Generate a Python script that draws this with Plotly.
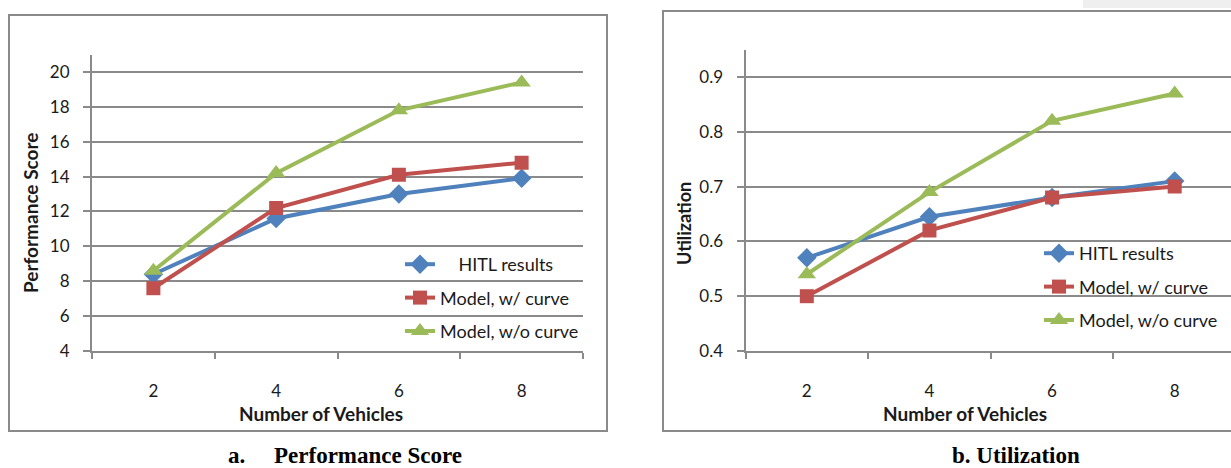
import plotly.graph_objects as go

W, H = 1231, 468

vehicles = [2, 4, 6, 8]
series_names = ["\u00a0\u00a0\u00a0\u00a0HITL results", "Model, w/ curve", "Model, w/o curve"]
series_names_b = ["HITL results", "Model, w/ curve", "Model, w/o curve"]

perf_hitl = [8.4, 11.6, 13.0, 13.9]
perf_with_curve = [7.6, 12.2, 14.1, 14.8]
perf_without_curve = [8.6, 14.2, 17.8, 19.4]

util_hitl = [0.57, 0.645, 0.68, 0.71]
util_with_curve = [0.50, 0.62, 0.68, 0.70]
util_without_curve = [0.54, 0.69, 0.82, 0.87]

colors = ["#4F81BD", "#C0504D", "#9BBB59"]
symbols = ["diamond", "square", "triangle-up"]
msizes = [15, 14, 16]

GRID = "#8a8a8a"
FONT = "Lato"
TXT = "#1a1a1a"


def px(x):
    return x / W


def py(y):
    return 1 - y / H


fig = go.Figure()

for i, vals in enumerate([perf_hitl, perf_with_curve, perf_without_curve]):
    fig.add_trace(go.Scatter(
        x=vehicles, y=vals, name=series_names[i], mode="lines+markers",
        line=dict(color=colors[i], width=4),
        marker=dict(symbol=symbols[i], size=msizes[i], color=colors[i]),
        xaxis="x", yaxis="y", legend="legend", legendgroup="a%d" % i,
    ))

for i, vals in enumerate([util_hitl, util_with_curve, util_without_curve]):
    fig.add_trace(go.Scatter(
        x=vehicles, y=vals, name=series_names_b[i], mode="lines+markers",
        line=dict(color=colors[i], width=4),
        marker=dict(symbol=symbols[i], size=msizes[i], color=colors[i]),
        xaxis="x2", yaxis="y2", legend="legend2", legendgroup="b%d" % i,
    ))

xcommon = dict(
    tickvals=vehicles, ticktext=[str(v) for v in vehicles], ticks="",
    showgrid=False, zeroline=False, showline=True, linecolor=GRID, linewidth=2,
    tickfont=dict(family=FONT, size=17, color=TXT), ticklabelstandoff=24,
    minor=dict(tick0=1, dtick=2, ticks="outside", ticklen=6, tickcolor=GRID,
               tickwidth=2, showgrid=False),
    fixedrange=True, automargin=False,
)
ycommon = dict(
    ticks="outside", ticklen=7, tickcolor=GRID, tickwidth=2,
    showgrid=True, gridcolor=GRID, gridwidth=2, zeroline=False,
    showline=True, linecolor=GRID, linewidth=2,
    tickfont=dict(family=FONT, size=17, color=TXT), ticklabelstandoff=10,
    fixedrange=True, automargin=False,
)

x2_end = 1 + 8 * (1231 - 745.5) / 490.5

fig.update_layout(
    xaxis=dict(domain=[px(92), px(583)], range=[1, 9], anchor="y", **xcommon),
    yaxis=dict(domain=[py(351), py(54.5)], range=[4, 21], tick0=4, dtick=2,
               anchor="x", **ycommon),
    xaxis2=dict(domain=[px(745.5), 1.0], range=[1, x2_end], anchor="y2", **xcommon),
    yaxis2=dict(domain=[py(351), py(50)], range=[0.4, 0.4 + 301 / 548], tick0=0.4,
                dtick=0.1, tickformat=".1f", anchor="x2", **ycommon),
)

legend_common = dict(
    xanchor="left", yanchor="top", bgcolor="rgba(0,0,0,0)", borderwidth=0,
    font=dict(family=FONT, size=18, color=TXT), tracegroupgap=7,
    traceorder="grouped", itemclick=False, itemdoubleclick=False,
)
fig.update_layout(
    legend=dict(x=px(400), y=py(246), **legend_common),
    legend2=dict(x=px(1039), y=py(235), **legend_common),
)

shapes = [
    dict(type="rect", xref="paper", yref="paper", x0=px(1083), x1=1.0, y0=py(8), y1=1.0,
         fillcolor="#efefef", line=dict(width=0), layer="below"),
    dict(type="rect", xref="paper", yref="paper", x0=px(9), x1=px(607), y0=py(431), y1=py(15),
         line=dict(color=GRID, width=2), fillcolor="rgba(0,0,0,0)"),
    dict(type="rect", xref="paper", yref="paper", x0=px(663), x1=px(1245), y0=py(431), y1=py(11),
         line=dict(color=GRID, width=2), fillcolor="white", layer="below"),
]

annotations = [
    dict(text="<b>Number of Vehicles</b>", x=px(321), y=py(413), xref="paper", yref="paper",
         showarrow=False, xanchor="center", yanchor="middle",
         font=dict(family=FONT, size=19, color=TXT)),
    dict(text="<b>Number of Vehicles</b>", x=px(965), y=py(413), xref="paper", yref="paper",
         showarrow=False, xanchor="center", yanchor="middle",
         font=dict(family=FONT, size=19, color=TXT)),
    dict(text="<b>Performance Score</b>", x=px(31), y=py(213), xref="paper", yref="paper",
         showarrow=False, xanchor="center", yanchor="middle", textangle=-90,
         font=dict(family=FONT, size=19, color=TXT)),
    dict(text="<b>Utilization</b>", x=px(684), y=py(224), xref="paper", yref="paper",
         showarrow=False, xanchor="center", yanchor="middle", textangle=-90,
         font=dict(family=FONT, size=18, color=TXT)),
    dict(text="<b>a.\u00a0\u00a0\u00a0\u00a0\u00a0Performance Score</b>", x=px(345), y=py(455),
         xref="paper", yref="paper", showarrow=False, xanchor="center", yanchor="middle",
         font=dict(family="Liberation Serif", size=23, color="#000")),
    dict(text="<b>b. Utilization</b>", x=px(1016), y=py(455),
         xref="paper", yref="paper", showarrow=False, xanchor="center", yanchor="middle",
         font=dict(family="Liberation Serif", size=23, color="#000")),
]

fig.update_layout(
    width=W, height=H, margin=dict(l=0, r=0, t=0, b=0),
    paper_bgcolor="white", plot_bgcolor="rgba(0,0,0,0)",
    shapes=shapes, annotations=annotations, showlegend=True,
)

fig.write_html(
    "out.html",
    config={"displayModeBar": False},
    post_script="document.body.style.margin='0px';document.body.style.overflow='hidden';",
)
